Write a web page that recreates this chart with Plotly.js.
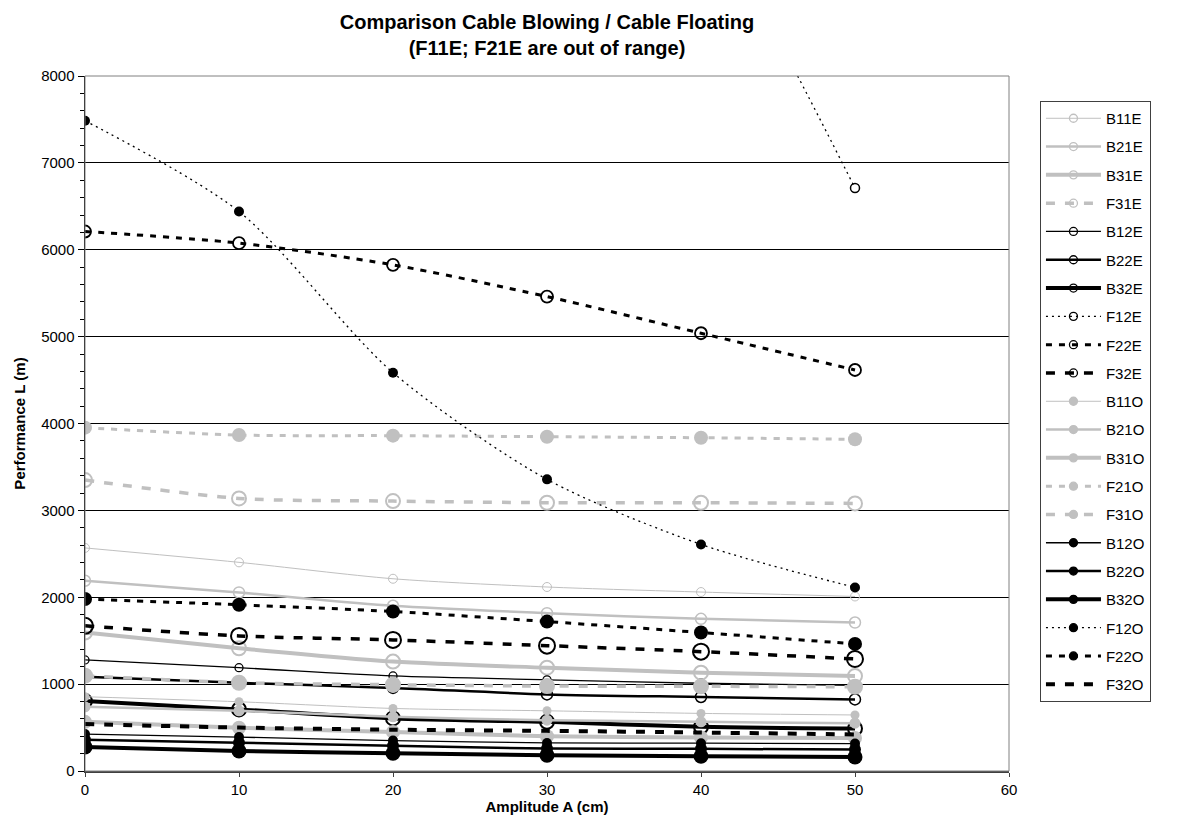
<!DOCTYPE html>
<html>
<head>
<meta charset="utf-8">
<script src="https://cdn.plot.ly/plotly-3.0.1.min.js"></script>
<style>html,body{margin:0;padding:0;background:#fff;}#chart{width:1179px;height:840px;}</style>
</head>
<body>
<div id="chart"></div>
<script>
// ---- data ----
const amplitude = [0, 10, 20, 30, 40, 50];
const seriesNames = ["B11E","B21E","B31E","F31E","B12E","B22E","B32E","F12E","F22E","F32E",
                     "B11O","B21O","B31O","F21O","F31O","B12O","B22O","B32O","F12O","F22O","F32O"];
const B11E = [2568, 2402, 2213, 2118, 2060, 2009];
const B21E = [2190, 2055, 1902, 1817, 1752, 1709];
const B31E = [1594, 1413, 1259, 1189, 1132, 1094];
const F31E = [3349, 3138, 3107, 3088, 3088, 3080];
const B12E = [1278, 1189, 1094, 1050, 1010, 985];
const B22E = [1085, 1015, 956, 882, 852, 824];
const B32E = [805, 709, 605, 566, 508, 489];
const F12E = [25000, 19000, 15000, 12300, 10000, 6710];
const F22E = [6210, 6076, 5826, 5461, 5039, 4616];
const F32E = [1671, 1555, 1509, 1443, 1374, 1290];
const B11O = [855, 797, 720, 693, 663, 645];
const B21O = [739, 693, 624, 585, 566, 550];
const B31O = [566, 497, 450, 400, 385, 380];
const F21O = [3952, 3867, 3860, 3848, 3836, 3818];
const F31O = [1097, 1016, 993, 978, 975, 970];
const B12O = [425, 390, 350, 323, 320, 316];
const B22O = [360, 325, 290, 259, 255, 247];
const B32O = [277, 231, 205, 181, 170, 162];
const F12O = [7485, 6440, 4585, 3357, 2608, 2113];
const F22O = [1979, 1913, 1836, 1720, 1594, 1463];
const F32O = [540, 500, 475, 462, 443, 420];
const seriesValues = {B11E,B21E,B31E,F31E,B12E,B22E,B32E,F12E,F22E,F32E,
                      B11O,B21O,B31O,F21O,F31O,B12O,B22O,B32O,F12O,F22O,F32O};
const xTitle = 'Amplitude A (cm)';
const yTitle = 'Performance L (m)';
const chartTitle = 'Comparison Cable Blowing / Cable Floating<br>(F11E; F21E are out of range)';

// ---- styles ----
const GRAY = '#c0c0c0', BLACK = '#000000';
const DOT = '2px,4px', DASH = '6px,7px', LONG = '9px,10px';
const styles = {
  B11E:{c:GRAY, w:1,   d:'solid', s:'circle-open', m:9,  ml:1},
  B21E:{c:GRAY, w:2.5, d:'solid', s:'circle-open', m:11, ml:1.5},
  B31E:{c:GRAY, w:4,   d:'solid', s:'circle-open', m:14, ml:2},
  F31E:{c:GRAY, w:3.5, d:LONG,    s:'circle-open', m:14, ml:2},
  B12E:{c:BLACK,w:1.3, d:'solid', s:'circle-open', m:8,  ml:1.3},
  B22E:{c:BLACK,w:2.5, d:'solid', s:'circle-open', m:11, ml:1.5},
  B32E:{c:BLACK,w:4,   d:'solid', s:'circle-open', m:14, ml:2},
  F12E:{c:BLACK,w:1.3, d:DOT,     s:'circle-open', m:9,  ml:1.5},
  F22E:{c:BLACK,w:3,   d:DASH,    s:'circle-open', m:12, ml:1.8},
  F32E:{c:BLACK,w:3.5, d:LONG,    s:'circle-open', m:16, ml:2},
  B11O:{c:GRAY, w:1,   d:'solid', s:'circle', m:9},
  B21O:{c:GRAY, w:2.5, d:'solid', s:'circle', m:11},
  B31O:{c:GRAY, w:4,   d:'solid', s:'circle', m:14},
  F21O:{c:GRAY, w:3,   d:DASH,    s:'circle', m:14},
  F31O:{c:GRAY, w:3.5, d:LONG,    s:'circle', m:16},
  B12O:{c:BLACK,w:1.3, d:'solid', s:'circle', m:10},
  B22O:{c:BLACK,w:2.5, d:'solid', s:'circle', m:12},
  B32O:{c:BLACK,w:4,   d:'solid', s:'circle', m:15},
  F12O:{c:BLACK,w:1.3, d:DOT,     s:'circle', m:10},
  F22O:{c:BLACK,w:3,   d:DASH,    s:'circle', m:14},
  F32O:{c:BLACK,w:4,   d:LONG,    s:null,     m:0}
};

const traces = [];
seriesNames.forEach(function(n){
  const st = styles[n];
  const t = {
    type:'scatter', x: amplitude, y: seriesValues[n], name: n, showlegend:false,
    mode: st.s ? 'lines+markers' : 'lines',
    line:{color:st.c, width:st.w, dash:st.d, shape:'spline', smoothing:0.8},
    cliponaxis:true, hoverinfo:'skip'
  };
  if (st.s) t.marker = {symbol:st.s, size:st.m, color:st.c, line:{color:st.c, width:st.ml||0}};
  traces.push(t);
});
// legend entries
seriesNames.forEach(function(n, i){
  const st = styles[n];
  const t = {
    type:'scatter', x:[null], y:[null], name:n, showlegend:true, legendgroup:'g'+i,
    mode: st.s ? 'lines+markers' : 'lines',
    line:{color:st.c, width:st.w, dash:st.d}
  };
  if (st.s) t.marker = {symbol:st.s, size:8, color:st.c, line:{color:st.c, width:1.3}};
  traces.push(t);
});

const FONT = 'Liberation Sans, Arial, sans-serif';
const FS = 15;
const layout = {
  width:1179, height:840,
  margin:{l:85, r:170, t:76, b:69},
  paper_bgcolor:'#ffffff', plot_bgcolor:'#ffffff',
  font:{family:FONT, size:FS, color:'#000'},
  title:{text:chartTitle,
         font:{family:FONT, size:20, weight:'bold', color:'#000'},
         x:0.5, xref:'paper', xanchor:'center', y:0.966, yref:'container', yanchor:'top'},
  xaxis:{range:[0,60], dtick:10, tick0:0, showgrid:false, zeroline:false,
         showline:true, linecolor:'#404040', linewidth:1.5,
         ticks:'outside', ticklen:4, tickcolor:'#404040',
         tickfont:{family:FONT, size:FS},
         title:{text:xTitle, font:{family:FONT, size:FS, weight:'bold'}, standoff:0}},
  yaxis:{range:[0,8000], dtick:1000, tick0:0, showgrid:true, gridcolor:'#000', gridwidth:1,
         zeroline:false, showline:true, linecolor:'#000', linewidth:1.5,
         ticks:'outside', ticklen:6, tickcolor:'#000',
         minor:{dtick:200, ticks:'outside', ticklen:4, tickcolor:'#000', showgrid:false},
         tickfont:{family:FONT, size:FS},
         title:{text:yTitle, font:{family:FONT, size:FS, weight:'bold'}, standoff:12}},
  shapes:[{type:'rect', xref:'paper', yref:'paper', x0:0, x1:1, y0:0, y1:1,
           line:{color:'#808080', width:1}, layer:'above', fillcolor:'rgba(0,0,0,0)'}],
  legend:{x:1.0335, xanchor:'left', y:0.964, yanchor:'top',
          bordercolor:'#404040', borderwidth:1, bgcolor:'#fff',
          font:{family:FONT, size:FS}, traceorder:'grouped', tracegroupgap:5.8,
          itemwidth:55},
  showlegend:true
};
Plotly.newPlot('chart', traces, layout, {staticPlot:true});
</script>
</body>
</html>
